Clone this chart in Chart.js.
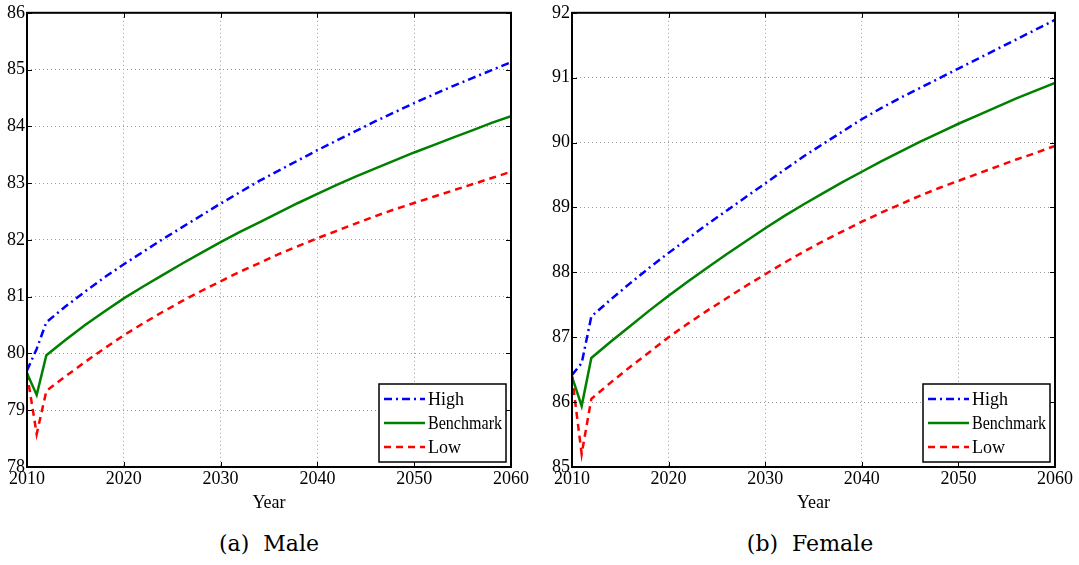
<!DOCTYPE html>
<html>
<head>
<meta charset="utf-8">
<script src="https://cdn.jsdelivr.net/npm/chart.js@4.4.1/dist/chart.umd.min.js"></script>
<style>
  body { margin: 0; background: #fff; width: 1079px; height: 565px; position: relative; overflow: hidden; }
  #male { position: absolute; left: 0; top: 0; }
  #female { position: absolute; left: 545px; top: 0; }
  .cap { position: absolute; top: 531px; font-family: "DejaVu Serif", serif; font-size: 22px; color: #000; transform: translateX(-50%); white-space: nowrap; }
</style>
</head>
<body>
<canvas id="male" width="540" height="520"></canvas>
<canvas id="female" width="534" height="520"></canvas>
<div class="cap" style="left:269px">(a)&nbsp; Male</div>
<div class="cap" style="left:810px">(b)&nbsp; Female</div>
<script>
// years of the projection
const years = [2010, 2011, 2012, 2014, 2016, 2018, 2020, 2022, 2024, 2026, 2028, 2030, 2032, 2034,
               2036, 2038, 2040, 2042, 2044, 2046, 2048, 2050, 2052, 2054, 2056, 2058, 2060];

// life expectancy, male
const maleHigh = [79.70, 80.08, 80.55, 80.83, 81.09, 81.34, 81.57, 81.79, 82.01, 82.22, 82.43, 82.64, 82.84, 83.04,
                  83.22, 83.40, 83.58, 83.75, 83.92, 84.09, 84.25, 84.41, 84.56, 84.71, 84.85, 84.99, 85.13];
const maleBench = [79.65, 79.27, 79.97, 80.24, 80.50, 80.74, 80.97, 81.18, 81.38, 81.58, 81.77, 81.96, 82.14, 82.31,
                   82.48, 82.65, 82.81, 82.97, 83.12, 83.26, 83.40, 83.54, 83.67, 83.80, 83.93, 84.06, 84.18];
const maleLow = [79.65, 78.58, 79.34, 79.60, 79.85, 80.09, 80.32, 80.53, 80.73, 80.92, 81.10, 81.27, 81.44, 81.59,
                 81.75, 81.89, 82.03, 82.16, 82.29, 82.42, 82.54, 82.65, 82.76, 82.87, 82.98, 83.09, 83.20];

// life expectancy, female
const femaleHigh = [86.42, 86.60, 87.32, 87.58, 87.83, 88.07, 88.30, 88.52, 88.74, 88.95, 89.16, 89.37, 89.58, 89.79,
                    89.98, 90.17, 90.36, 90.53, 90.69, 90.84, 90.99, 91.14, 91.29, 91.44, 91.59, 91.74, 91.89];
const femaleBench = [86.39, 85.94, 86.68, 86.93, 87.17, 87.41, 87.64, 87.86, 88.07, 88.28, 88.48, 88.68, 88.87, 89.05,
                     89.22, 89.39, 89.55, 89.71, 89.86, 90.01, 90.15, 90.29, 90.42, 90.55, 90.68, 90.80, 90.92];
const femaleLow = [86.40, 85.20, 86.05, 86.30, 86.54, 86.77, 87.00, 87.21, 87.41, 87.60, 87.79, 87.97, 88.15, 88.32,
                   88.48, 88.63, 88.78, 88.92, 89.05, 89.18, 89.30, 89.41, 89.52, 89.63, 89.74, 89.84, 89.95];

const seriesNames = ['High', 'Benchmark', 'Low'];

const FONT = '"Liberation Serif", serif';

function pts(vals){
    return vals.map((v, i) => ({x: years[i], y: v}));
}

// matlab style box, inward ticks and legend
const matlabBox = {
    id: 'matlabBox',
    afterDraw(chart){
        const ctx = chart.ctx;
        const a = chart.chartArea;
        const xs = chart.scales.x;
        const ys = chart.scales.y;
        ctx.save();
        ctx.strokeStyle = '#000';
        ctx.lineWidth = 1;
        ctx.beginPath();
        xs.ticks.forEach(t => {
            let px = Math.round(xs.getPixelForValue(t.value)) + 0.5;
            ctx.moveTo(px, a.bottom); ctx.lineTo(px, a.bottom - 5);
            ctx.moveTo(px, a.top); ctx.lineTo(px, a.top + 5);
        });
        ys.ticks.forEach(t => {
            let py = Math.round(ys.getPixelForValue(t.value)) + 0.5;
            ctx.moveTo(a.left, py); ctx.lineTo(a.left + 5, py);
            ctx.moveTo(a.right, py); ctx.lineTo(a.right - 5, py);
        });
        ctx.stroke();
        ctx.lineWidth = 2;
        ctx.strokeRect(a.left, a.top, a.right - a.left, a.bottom - a.top);

        // legend
        let w = 127, h = 78;
        let lx = a.right - 5 - w, ly = a.bottom - 5 - h;
        ctx.fillStyle = '#fff';
        ctx.fillRect(lx, ly, w, h);
        ctx.lineWidth = 1.5;
        ctx.strokeRect(lx, ly, w, h);
        ctx.font = '18px ' + FONT;
        ctx.textBaseline = 'middle';
        chart.data.datasets.forEach((ds, i) => {
            let yy = ly + 15 + i * 24;
            ctx.strokeStyle = ds.borderColor;
            ctx.lineWidth = ds.borderWidth;
            ctx.setLineDash(ds.borderDash || []);
            ctx.beginPath();
            ctx.moveTo(lx + 5, yy); ctx.lineTo(lx + 46, yy);
            ctx.stroke();
            ctx.setLineDash([]);
            ctx.fillStyle = '#000';
            ctx.fillText(ds.label, lx + 49, yy + 1, w - 53);
        });
        ctx.restore();
    }
};

function makeChart(id, high, bench, low, yMin, yMax, padRight){
    new Chart(document.getElementById(id), {
        type: 'line',
        data: {
            datasets: [
                {label: seriesNames[0], data: pts(high), borderColor: '#0000ff', borderWidth: 2.5, borderDash: [8, 4, 2, 4]},
                {label: seriesNames[1], data: pts(bench), borderColor: '#008000', borderWidth: 2.5},
                {label: seriesNames[2], data: pts(low), borderColor: '#ff0000', borderWidth: 2.5, borderDash: [7, 5]}
            ]
        },
        options: {
            responsive: false,
            animation: false,
            elements: {point: {radius: 0}, line: {tension: 0}},
            layout: {padding: {top: 11, right: padRight, left: 0, bottom: 0}},
            plugins: {legend: {display: false}, tooltip: {enabled: false}},
            scales: {
                x: {
                    type: 'linear', min: 2010, max: 2060,
                    afterFit: s => { s.height = 53; },
                    ticks: {stepSize: 10, color: '#000', font: {family: FONT, size: 18}, padding: 1, maxRotation: 0,
                            callback: v => String(v)},
                    grid: {color: '#9a9a9a', lineWidth: 1, drawTicks: false, tickLength: 0},
                    border: {display: false, dash: [1, 3]},
                    title: {display: true, text: 'Year', color: '#000', font: {family: FONT, size: 18}, padding: {top: 0, bottom: 6}}
                },
                y: {
                    min: yMin, max: yMax,
                    afterFit: s => { s.width = 27; },
                    ticks: {stepSize: 1, color: '#000', font: {family: FONT, size: 18}, padding: 2},
                    grid: {color: '#9a9a9a', lineWidth: 1, drawTicks: false, tickLength: 0},
                    border: {display: false, dash: [1, 3]}
                }
            }
        },
        plugins: [matlabBox]
    });
}

makeChart('male', maleHigh, maleBench, maleLow, 78, 86, 29);
makeChart('female', femaleHigh, femaleBench, femaleLow, 85, 92, 24);
</script>
</body>
</html>
